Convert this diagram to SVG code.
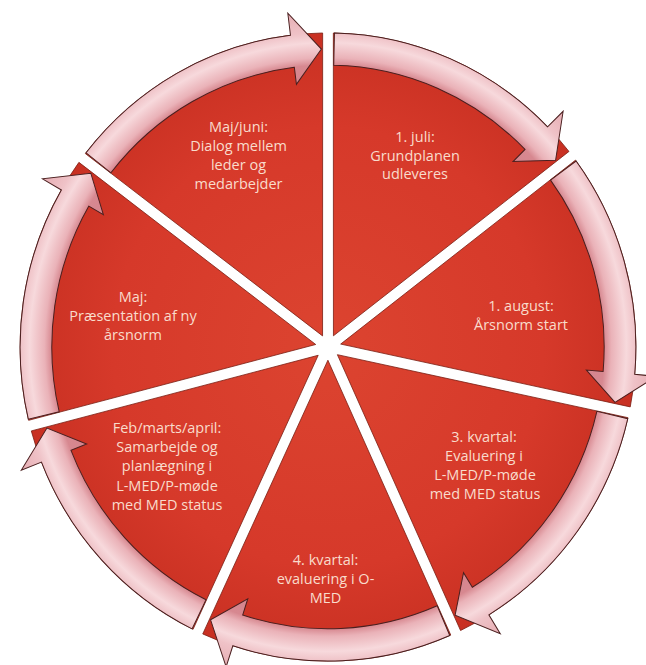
<svg xmlns="http://www.w3.org/2000/svg" width="646" height="665" viewBox="0 0 646 665">
<defs>
<radialGradient id="redGrad" gradientUnits="userSpaceOnUse" cx="327" cy="346" r="311">
<stop offset="0" stop-color="#dc4430"/>
<stop offset="0.7" stop-color="#d6392a"/>
<stop offset="1" stop-color="#c83022"/>
</radialGradient>
<radialGradient id="ringGrad" gradientUnits="userSpaceOnUse" cx="327" cy="346" r="333">
<stop offset="0.78" stop-color="#d4848d"/>
<stop offset="0.838" stop-color="#d78890"/>
<stop offset="0.86" stop-color="#eab2b8"/>
<stop offset="0.905" stop-color="#f7d9dc"/>
<stop offset="0.934" stop-color="#efc2c7"/>
<stop offset="1" stop-color="#e6adb3"/>
</radialGradient>
<style>
.wedge{fill:url(#redGrad);stroke:#7a1d12;stroke-width:0.8}
.arrow{fill:url(#ringGrad);stroke:#4a1f1f;stroke-width:1;stroke-linejoin:miter}
.lbl{fill:#f9dccc;font-family:"Open Sans","Liberation Sans",sans-serif;font-size:14.5px;text-anchor:middle}
</style>
</defs>
<rect width="646" height="665" fill="#ffffff"/>
<g id="n-juli">
<path class="wedge" transform="matrix(0.99 0 0 1.01 4.27 -2.46)" d="M332.5,334.9 L332.4,35.1 A311,311 0 0 1 570.4,152.4 Z"/>
<text class="lbl"><tspan x="415" y="142">1. juli:</tspan><tspan x="415" y="160.5">Grundplanen</tspan><tspan x="415" y="179">udleveres</tspan></text>
</g>
<g id="n-august">
<path class="wedge" transform="matrix(0.99 0 0 1.01 4.27 -2.46)" d="M339.8,343.1 L577.0,161.0 A311,311 0 0 1 632.3,405.3 Z"/>
<text class="lbl"><tspan x="521" y="311">1. august:</tspan><tspan x="521" y="329.5">Årsnorm start</tspan></text>
</g>
<g id="n-3kvartal">
<path class="wedge" transform="matrix(0.99 0 0 1.01 4.27 -2.46)" d="M336.5,353.6 L630.0,416.0 A311,311 0 0 1 460.9,626.7 Z"/>
<text class="lbl"><tspan x="484" y="441.5">3. kvartal:</tspan><tspan x="484" y="460.5">Evaluering i</tspan><tspan x="485" y="479.5">L-MED/P-møde</tspan><tspan x="485" y="498.5">med MED status</tspan></text>
</g>
<g id="n-4kvartal">
<path class="wedge" transform="matrix(0.99 0 0 1.01 4.27 -2.46)" d="M326.9,359.1 L451.0,631.2 A311,311 0 0 1 200.5,630.1 Z"/>
<text class="lbl"><tspan x="325.5" y="564.5">4. kvartal:</tspan><tspan x="325.5" y="583.5">evaluering i O-</tspan><tspan x="325.5" y="602.5">MED</tspan></text>
</g>
<g id="n-feb">
<path class="wedge" transform="matrix(0.99 0 0 1.01 4.27 -2.46)" d="M317.1,354.2 L190.7,625.5 A311,311 0 0 1 27.3,429.1 Z"/>
<text class="lbl"><tspan x="167" y="433">Feb/marts/april:</tspan><tspan x="167" y="452">Samarbejde og</tspan><tspan x="167" y="471">planlægning i</tspan><tspan x="167" y="490.5">L-MED/P-møde</tspan><tspan x="167" y="509.5">med MED status</tspan></text>
</g>
<g id="n-maj">
<path class="wedge" transform="matrix(0.99 0 0 1.01 4.27 -2.46)" d="M314.6,343.5 L24.6,418.6 A311,311 0 0 1 75.4,163.2 Z"/>
<text class="lbl"><tspan x="133" y="301.5">Maj:</tspan><tspan x="133" y="320.5">Præsentation af ny</tspan><tspan x="133" y="339.5">årsnorm</tspan></text>
</g>
<g id="n-majjuni">
<path class="wedge" transform="matrix(0.99 0 0 1.01 4.27 -2.46)" d="M321.5,335.0 L81.9,154.5 A311,311 0 0 1 321.6,35.1 Z"/>
<text class="lbl"><tspan x="238.5" y="132">Maj/juni:</tspan><tspan x="238.5" y="151">Dialog mellem</tspan><tspan x="238.5" y="170">leder og</tspan><tspan x="238.5" y="189">medarbejder</tspan></text>
</g>
<g id="connectors" transform="matrix(0.99 0 0 1.01 4.27 -2.46)">
<path class="arrow" d="M333.5,35.1 A311,311 0 0 1 548.8,128.0 L564.5,112.6 L556.9,161.2 L513.9,162.4 L526.0,150.4 A279,279 0 0 0 332.8,67.1 Z"/>
<path class="arrow" d="M577.6,161.9 A311,311 0 0 1 636.8,373.1 L658.7,375.0 L616.9,400.8 L588.0,368.8 L604.9,370.3 A279,279 0 0 0 551.8,180.8 Z"/>
<path class="arrow" d="M629.8,417.0 A311,311 0 0 1 489.5,611.2 L501.0,629.9 L455.4,611.6 L463.9,569.4 L472.8,583.9 A279,279 0 0 0 598.6,409.7 Z"/>
<path class="arrow" d="M450.0,631.6 A311,311 0 0 1 230.9,641.8 L224.1,662.7 L208.4,616.1 L246.0,595.2 L240.8,611.4 A279,279 0 0 0 437.3,602.2 Z"/>
<path class="arrow" d="M189.7,625.1 A311,311 0 0 1 37.6,460.0 L17.2,468.0 L43.1,426.3 L83.2,442.0 L67.4,448.3 A279,279 0 0 0 203.8,596.3 Z"/>
<path class="arrow" d="M24.3,417.5 A311,311 0 0 1 57.7,190.5 L38.6,179.5 L87.4,173.9 L100.1,215.0 L85.4,206.5 A279,279 0 0 0 55.5,410.2 Z"/>
<path class="arrow" d="M82.6,153.7 A311,311 0 0 1 289.1,37.3 L286.4,15.5 L320.3,51.1 L295.1,86.0 L293.0,69.1 A279,279 0 0 0 107.7,173.5 Z"/>
</g>
</svg>
